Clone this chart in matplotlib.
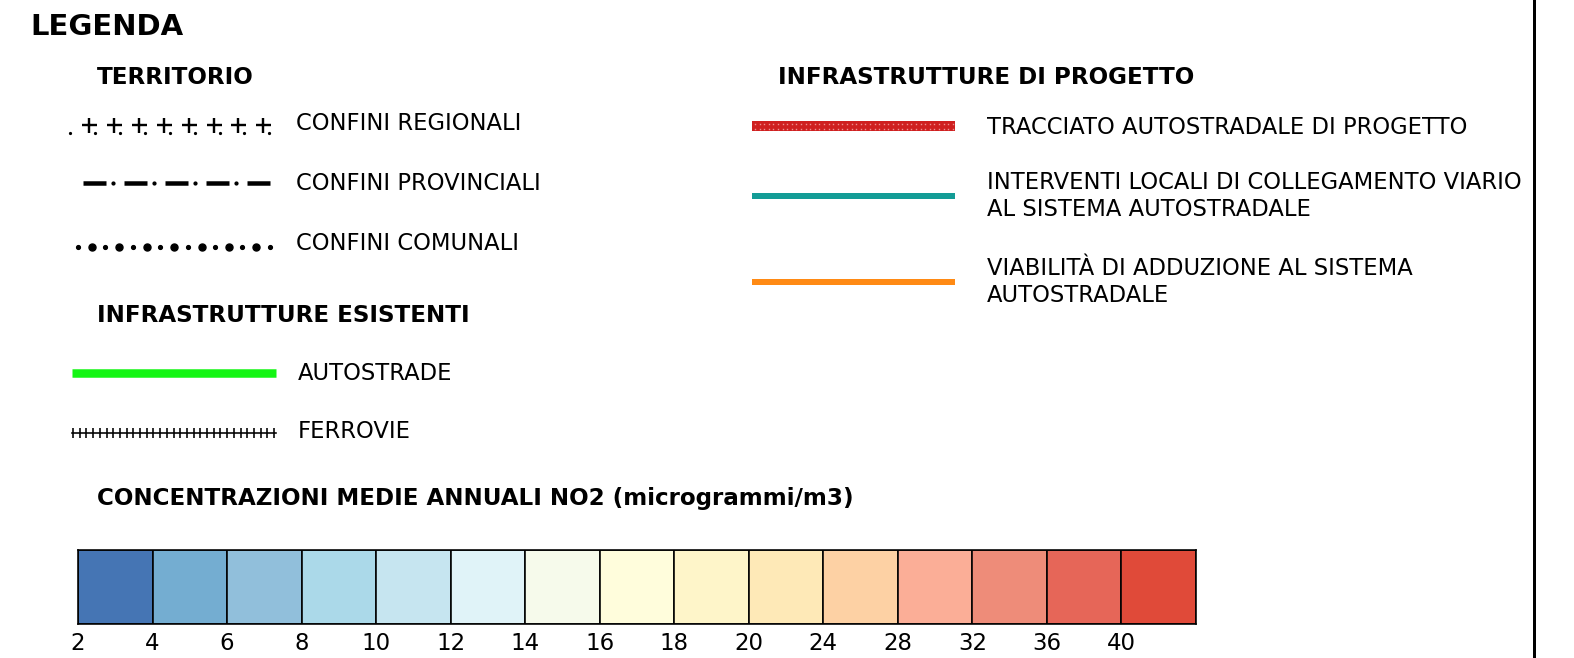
import numpy as np
import matplotlib
matplotlib.use("Agg")
import matplotlib.pyplot as plt

# ---------------- data ----------------
territorio_labels = ["CONFINI REGIONALI", "CONFINI PROVINCIALI", "CONFINI COMUNALI"]
esistenti_labels = ["AUTOSTRADE", "FERROVIE"]
progetto_labels = ["TRACCIATO AUTOSTRADALE DI PROGETTO",
                   "INTERVENTI LOCALI DI COLLEGAMENTO VIARIO\nAL SISTEMA AUTOSTRADALE",
                   "VIABILITÀ DI ADDUZIONE AL SISTEMA\nAUTOSTRADALE"]
no2_ticks = ["2", "4", "6", "8", "10", "12", "14", "16", "18", "20", "24", "28", "32", "36", "40"]
no2_colors = ["#4575b4", "#74add1", "#91bfdb", "#abd9e9", "#c6e5f0", "#e0f3f8",
              "#f6faeb", "#fffddc", "#fef5c9", "#fee9b7", "#fdd1a4", "#fbae97",
              "#ee8c79", "#e66658", "#e04a39"]

W, H = 1574, 658
FONT = "DejaVu Sans"
fig = plt.figure(figsize=(W / 100, H / 100), dpi=100)
ax = fig.add_axes([0, 0, 1, 1])
ax.set_xlim(0, W)
ax.set_ylim(H, 0)
ax.axis("off")

PX = 0.72  # points per pixel
BODY = 16.3
HEAD = 16.6

def txt(x, y, s, size=BODY, weight="normal", **kw):
    ax.text(x, y, s, fontsize=size, fontweight=weight, family=FONT,
            ha="left", va="center", color="black", **kw)

# headings
txt(30, 27, "LEGENDA", 21, "bold")
txt(97, 78, "TERRITORIO", HEAD, "bold")
txt(97, 316, "INFRASTRUTTURE ESISTENTI", HEAD, "bold")
txt(97, 499, "CONCENTRAZIONI MEDIE ANNUALI NO2 (microgrammi/m3)", HEAD, "bold")
txt(778, 77, "INFRASTRUTTURE DI PROGETTO", HEAD, "bold")

# territorio labels
for lab, y in zip(territorio_labels, [124, 184, 243]):
    txt(296, y, lab)

# regional boundary: plus markers + small dots
xs = np.arange(89, 270, 24.9)
ax.plot(xs, np.full_like(xs, 125), ls="none", marker="+", ms=15 * PX, mew=2.4 * PX, color="black")
ax.plot(np.r_[70, xs + 6], np.full(len(xs) + 1, 133), ls="none", marker="o", ms=1.8 * PX, color="black")

# provincial boundary: dash-dot
ax.plot([83, 271], [183, 183], color="black", lw=4.5 * PX, solid_capstyle="butt",
        dashes=(23 / 4.5, 18 / 4.5))
xd = np.arange(113, 240, 41)
ax.plot(xd, np.full_like(xd, 183.0), ls="none", marker="o", ms=2.8 * PX, color="black")

# communal boundary: alternating dots
xb = np.arange(92, 260, 13.7 * 2)
xsml = np.arange(78, 272, 13.7 * 2)
ax.plot(xb, np.full_like(xb, 247), ls="none", marker="o", ms=7 * PX, color="black")
ax.plot(xsml, np.full_like(xsml, 247), ls="none", marker="o", ms=3.8 * PX, color="black")

# esistenti
ax.plot([72, 276], [373, 373], color="#14f514", lw=8.5 * PX, solid_capstyle="butt")
txt(298, 373, esistenti_labels[0])
ax.plot([72, 276], [433, 433], color="black", lw=1.6 * PX)
xr = np.arange(73, 275, 6.7)
ax.plot(xr, np.full_like(xr, 433), ls="none", marker="|", ms=10 * PX, mew=1.6 * PX, color="black")
txt(298, 432, esistenti_labels[1])

# progetto
ax.plot([752, 955], [126, 126], color="#cf1f1f", lw=10 * PX, solid_capstyle="butt")
xp = np.arange(755, 955, 4.6)
for yy in (123.5, 128.5):
    ax.plot(xp, np.full_like(xp, yy), ls="none", marker="s", ms=1.4 * PX, color="#f09090", mew=0)
txt(987, 127, progetto_labels[0])

ax.plot([752, 955], [196, 196], color="#139c96", lw=6 * PX, solid_capstyle="butt")
txt(987, 196, progetto_labels[1], linespacing=1.25)

ax.plot([752, 955], [282, 282], color="#ff8a14", lw=6 * PX, solid_capstyle="butt")
txt(987, 282, progetto_labels[2], linespacing=1.25)

# right border line
ax.plot([1534, 1534], [0, H], color="black", lw=3 * PX)

# NO2 colour scale
cax = fig.add_axes([78 / W, 1 - 624 / H, (1196 - 78) / W, (624 - 550) / H])
idx = np.arange(len(no2_colors))
cax.bar(idx, 1, width=1, align="edge", color=no2_colors, edgecolor="black", linewidth=1.6 * PX)
cax.set_xlim(0, len(no2_colors))
cax.set_ylim(0, 1)
cax.set_yticks([])
cax.set_xticks(idx)
cax.set_xticklabels(no2_ticks, fontsize=16.5, family=FONT)
cax.tick_params(axis="x", length=0, pad=6)
for s in cax.spines.values():
    s.set_linewidth(1.6 * PX)

fig.savefig("out.png", dpi=100, facecolor="white")
